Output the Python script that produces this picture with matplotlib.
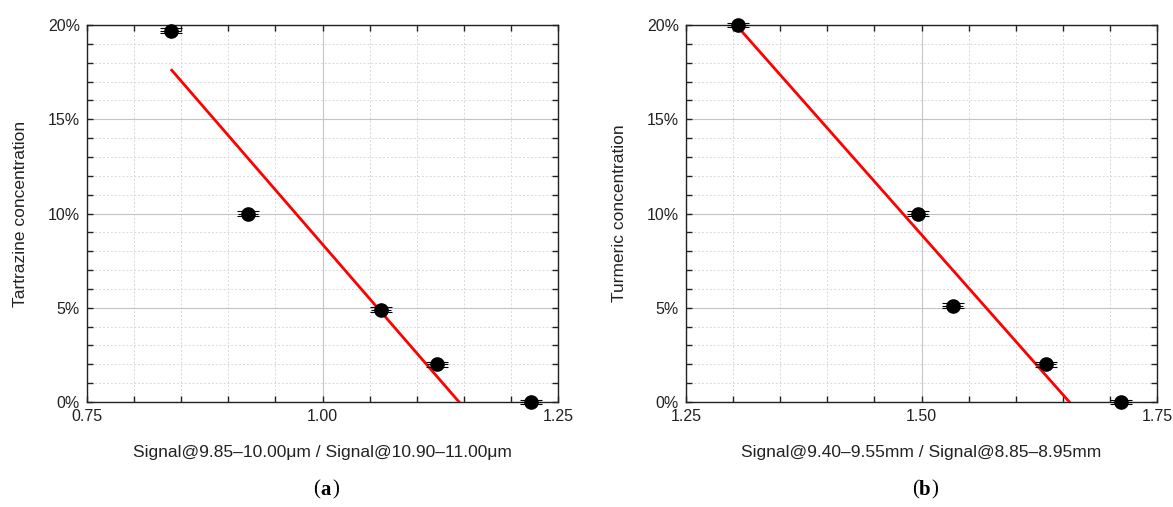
import matplotlib
matplotlib.use("Agg")
import matplotlib.pyplot as plt
from matplotlib.ticker import MultipleLocator, FuncFormatter

plt.rcParams['font.family'] = ['Liberation Sans', 'DejaVu Sans']

# --- data (a) tartrazine ---
tart_x = [0.839, 0.921, 1.062, 1.122, 1.221]
tart_y = [19.7, 10.0, 4.9, 2.0, 0.0]
tart_fit_x = [0.840, 1.145]
tart_fit_y = [17.6, 0.0]

# --- data (b) turmeric ---
turm_x = [1.305, 1.496, 1.533, 1.632, 1.712]
turm_y = [20.0, 10.0, 5.1, 2.0, 0.0]
turm_fit_x = [1.305, 1.657]
turm_fit_y = [19.9, 0.0]

x_err = 0.011
y_err = 0.13

panels = [
    dict(x=tart_x, y=tart_y, fx=tart_fit_x, fy=tart_fit_y, xlim=(0.75, 1.25),
         xlabel='Signal@9.85\u201310.00\u03bcm / Signal@10.90\u201311.00\u03bcm',
         ylabel='Tartrazine concentration', tag='a', left=87),
    dict(x=turm_x, y=turm_y, fx=turm_fit_x, fy=turm_fit_y, xlim=(1.25, 1.75),
         xlabel='Signal@9.40\u20139.55mm / Signal@8.85\u20138.95mm',
         ylabel='Turmeric concentration', tag='b', left=686),
]

W, H = 1173, 507
fig = plt.figure(figsize=(W / 100, H / 100), dpi=100)

for p in panels:
    ax = fig.add_axes([p['left'] / W, 1 - 402 / H, 471 / W, 377 / H])
    ax.set_xlim(*p['xlim'])
    ax.set_ylim(0, 20)

    # grid
    ax.xaxis.set_major_locator(MultipleLocator(0.25))
    ax.xaxis.set_minor_locator(MultipleLocator(0.05))
    ax.yaxis.set_major_locator(MultipleLocator(5))
    ax.yaxis.set_minor_locator(MultipleLocator(1))
    ax.grid(which='major', color='#c4c4c4', lw=0.8, ls='-')
    ax.grid(which='minor', color='#d8d8d8', lw=0.7, ls=(0, (2, 2)))
    ax.set_axisbelow(True)

    ax.tick_params(which='both', direction='in', top=True, right=True,
                   length=4, width=1, labelsize=11.5, colors='#222222', pad=5)
    ax.xaxis.set_major_formatter(FuncFormatter(lambda v, _: f'{v:.2f}'))
    ax.yaxis.set_major_formatter(FuncFormatter(lambda v, _: f'{v:.0f}%'))
    for s in ax.spines.values():
        s.set_linewidth(1.0)
        s.set_color('#222222')

    # fit line
    ax.plot(p['fx'], p['fy'], color='#ff0000', lw=2, zorder=3)

    # points with error bars
    ax.errorbar(p['x'], p['y'], xerr=x_err, fmt='none', ecolor='black',
                elinewidth=0.8, capsize=0, zorder=4, clip_on=False)
    ax.errorbar(p['x'], p['y'], yerr=y_err, fmt='o', color='black',
                ms=9.5, elinewidth=0.8, capsize=8, capthick=0.8, zorder=4,
                clip_on=False)

    ax.set_xlabel(p['xlabel'], fontsize=12.5, labelpad=15, color='#222222')
    ax.set_ylabel(p['ylabel'], fontsize=12.5, labelpad=14, color='#222222')

    cx = (p['left'] + 471 / 2) / W
    fig.text(cx - 0.002, 1 - 490 / H, '(', fontsize=15, family='Liberation Serif',
             ha='right', va='center')
    fig.text(cx - 0.002, 1 - 490 / H, p['tag'], fontsize=15, family='Liberation Serif',
             weight='bold', ha='left', va='center')
    fig.text(cx + 0.0085, 1 - 490 / H, ')', fontsize=15, family='Liberation Serif',
             ha='left', va='center')

fig.savefig('out.png', dpi=100)
